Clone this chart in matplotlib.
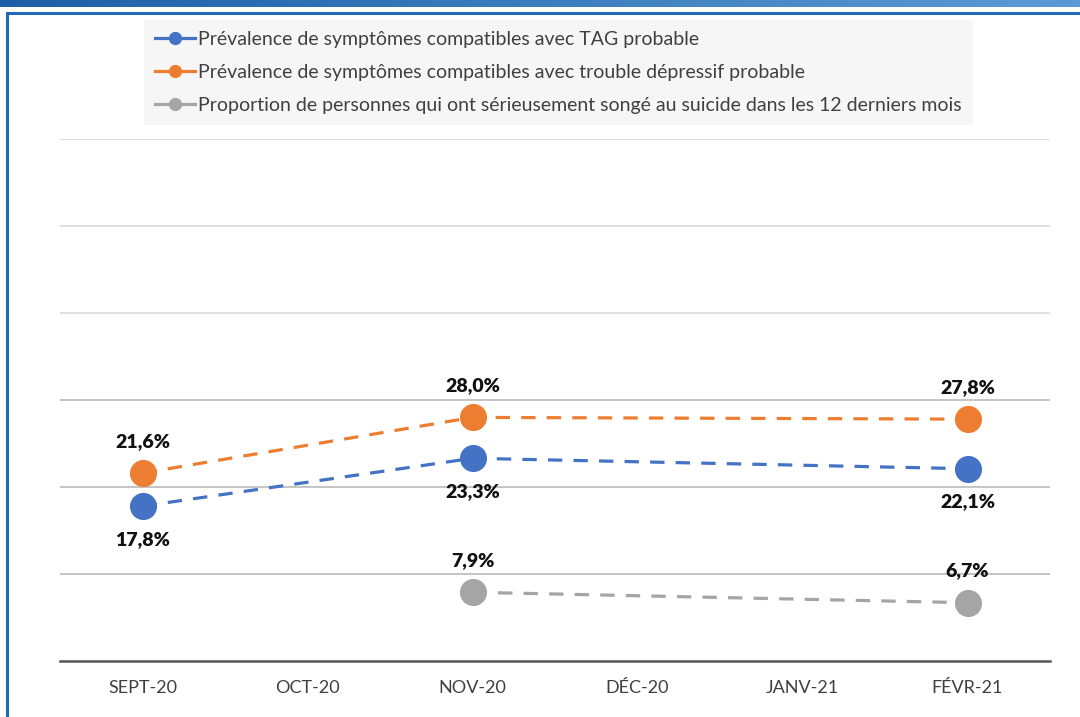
import numpy as np
import matplotlib
matplotlib.use("Agg")
from matplotlib import pyplot as plt
from matplotlib.lines import Line2D
from matplotlib.patches import Rectangle

plt.rcParams['font.family'] = ['Lato', 'DejaVu Sans']

# mois de l'enquête
mois = ['SEPT-20', 'OCT-20', 'NOV-20', 'DÉC-20', 'JANV-21', 'FÉVR-21']

# valeurs en %, None quand pas de mesure
tag = [17.8, None, 23.3, None, None, 22.1]
depression = [21.6, None, 28.0, None, None, 27.8]
suicide = [None, None, 7.9, None, None, 6.7]

noms = [
    'Prévalence de symptômes compatibles avec TAG probable',
    'Prévalence de symptômes compatibles avec trouble dépressif probable',
    'Proportion de personnes qui ont sérieusement songé au suicide dans les 12 derniers mois',
]
couleurs = ['#4472C4', '#ED7D31', '#A5A5A5']
position_label = ['below', 'above', 'above']

W, H = 1080, 717
fig = plt.figure(figsize=(W / 100, H / 100), dpi=100)

# bandeau dégradé en haut
band = fig.add_axes([0, 1 - 7 / H, 1, 7 / H])
grad = np.linspace(0, 1, 256).reshape(1, -1)
band.imshow(grad, aspect='auto', cmap=matplotlib.colors.LinearSegmentedColormap.from_list(
    'bandeau', ['#1d5fa6', '#5b9bd5']), extent=[0, 1, 0, 1])
band.axis('off')

# cadre bleu
fig.patches.append(Rectangle((7 / W, -0.05), 1.2, 1 - 13 / H + 0.05, transform=fig.transFigure,
                             fill=False, edgecolor='#1f6cb5', linewidth=2.2))

ax = fig.add_axes([60 / W, 1 - 661 / H, 990 / W, (661 - 139) / H])
ax.set_xlim(-0.5, len(mois) - 0.5)
ax.set_ylim(0, 60)

for y in range(10, 61, 10):
    c = '#b4b4b4' if y <= 30 else '#d9d9d9'
    ax.axhline(y, color=c, linewidth=1.1, zorder=0)

for serie, col, pos in zip([tag, depression, suicide], couleurs, position_label):
    xs = [i for i, v in enumerate(serie) if v is not None]
    ys = [v for v in serie if v is not None]
    ax.plot(xs, ys, color=col, linewidth=2.3, linestyle=(0, (4.5, 3.5)), zorder=2)
    ax.plot(xs, ys, linestyle='none', marker='o', markersize=18.5, color=col, zorder=3)
    for x, v in zip(xs, ys):
        off = -24 if pos == 'below' else 23
        ax.annotate(f'{v:.1f}%'.replace('.', ','), (x, v), xytext=(0, off),
                    textcoords='offset points', ha='center', va='center',
                    fontsize=14, fontweight='heavy', color='#111111', zorder=4)

ax.set_xticks(range(len(mois)))
ax.set_xticklabels(mois, fontsize=13, color='#404040')
ax.tick_params(axis='x', length=0, pad=14)
ax.set_yticks([])
for s in ['top', 'right', 'left']:
    ax.spines[s].set_visible(False)
ax.spines['bottom'].set_color('#555555')
ax.spines['bottom'].set_linewidth(1.8)

handles = [Line2D([0], [0], color=c, linewidth=2.3, marker='o', markersize=8.5) for c in couleurs]
leg = fig.legend(handles, noms, loc='upper left', bbox_to_anchor=(144 / W, 1 - 20 / H),
                 frameon=True, fontsize=14, handlelength=2.05, handletextpad=0.2,
                 labelspacing=0.83, borderpad=0.55, borderaxespad=0, fancybox=False,
                 labelcolor='#404040')
leg.get_frame().set_facecolor('#f4f4f4')
leg.get_frame().set_edgecolor('none')

fig.savefig('out.png', dpi=100)
